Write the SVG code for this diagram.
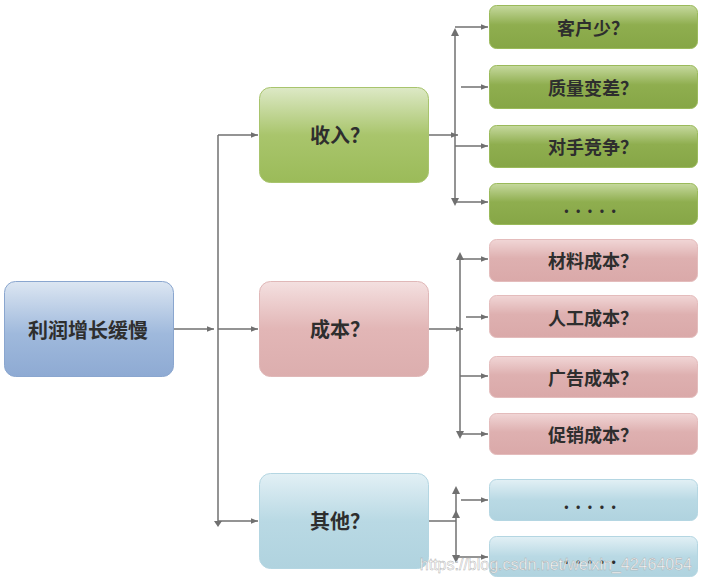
<svg xmlns="http://www.w3.org/2000/svg" width="702" height="583" viewBox="0 0 702 583">
<defs>
<linearGradient id="gBlue" x1="0" y1="0" x2="0" y2="1"><stop offset="0" stop-color="#dce6f2"/><stop offset="0.55" stop-color="#9fb9dc"/><stop offset="1" stop-color="#8eaad3"/></linearGradient>
<linearGradient id="gGreen" x1="0" y1="0" x2="0" y2="1"><stop offset="0" stop-color="#dde9c6"/><stop offset="0.5" stop-color="#a9c56c"/><stop offset="1" stop-color="#9bbb59"/></linearGradient>
<linearGradient id="gGreenS" x1="0" y1="0" x2="0" y2="1"><stop offset="0" stop-color="#c6d99e"/><stop offset="0.45" stop-color="#8fae4f"/><stop offset="1" stop-color="#86a646"/></linearGradient>
<linearGradient id="gRed" x1="0" y1="0" x2="0" y2="1"><stop offset="0" stop-color="#f4e0e0"/><stop offset="0.5" stop-color="#e2b6b6"/><stop offset="1" stop-color="#dcaeae"/></linearGradient>
<linearGradient id="gRedS" x1="0" y1="0" x2="0" y2="1"><stop offset="0" stop-color="#f1d6d6"/><stop offset="0.45" stop-color="#deb0b0"/><stop offset="1" stop-color="#daa9a9"/></linearGradient>
<linearGradient id="gCyan" x1="0" y1="0" x2="0" y2="1"><stop offset="0" stop-color="#e2f0f5"/><stop offset="0.5" stop-color="#b9d9e4"/><stop offset="1" stop-color="#b0d3df"/></linearGradient>
<marker id="ah" viewBox="0 0 10 10" refX="10" refY="5" markerWidth="7" markerHeight="7" orient="auto-start-reverse" markerUnits="userSpaceOnUse"><path d="M0,1 L10,5 L0,9 Z" fill="#707070"/></marker>
</defs>
<style>
.lbl{font-family:"Noto Sans CJK SC","Noto Sans",sans-serif;font-weight:bold;fill:#2e2e2e;text-anchor:middle;dominant-baseline:central}
.big{font-size:20px}
.sm{font-size:18px}
.dots{letter-spacing:6px}
.ln{stroke:#707070;stroke-width:1.5;fill:none}
.arr{marker-end:url(#ah)}
</style>
<rect width="702" height="583" fill="#ffffff"/>

<g id="connectors">
<line class="ln arr" x1="174" y1="329" x2="214" y2="329"/>
<line class="ln arr" x1="218" y1="329" x2="258" y2="329"/>
<line class="ln" x1="218" y1="135" x2="218" y2="521"/>
<path class="ln arr" d="M218,135 L258,135"/>
<path class="ln arr" d="M218,521 L258,521"/>
<path d="M214,521 L222,521 L218,527 Z" fill="#707070"/>
<line class="ln arr" x1="429" y1="135" x2="458" y2="135"/>
<line class="ln" x1="455" y1="30" x2="455" y2="202"/>
<path d="M451,36 L459,36 L455,28 Z" fill="#707070"/>
<path d="M451,198 L459,198 L455,206 Z" fill="#707070"/>
<line class="ln arr" x1="455" y1="27" x2="488" y2="27"/>
<line class="ln arr" x1="461" y1="87" x2="488" y2="87"/>
<line class="ln arr" x1="455" y1="146" x2="488" y2="146"/>
<line class="ln arr" x1="455" y1="202" x2="488" y2="202"/>
<line class="ln arr" x1="429" y1="329" x2="463" y2="329"/>
<line class="ln" x1="460" y1="256" x2="460" y2="434"/>
<path d="M456,260 L464,260 L460,252 Z" fill="#707070"/>
<path d="M456,431 L464,431 L460,439 Z" fill="#707070"/>
<line class="ln arr" x1="460" y1="259" x2="488" y2="259"/>
<line class="ln arr" x1="466" y1="317" x2="488" y2="317"/>
<line class="ln arr" x1="460" y1="376" x2="488" y2="376"/>
<line class="ln arr" x1="460" y1="434" x2="488" y2="434"/>
<line class="ln" x1="429" y1="521" x2="456" y2="521"/>
<line class="ln" x1="456" y1="490" x2="456" y2="558"/>
<path d="M452,494 L460,494 L456,486 Z" fill="#707070"/>
<path d="M452,518 L460,518 L456,510 Z" fill="#707070"/>
<path d="M452,555 L460,555 L456,563 Z" fill="#707070"/>
<line class="ln arr" x1="461" y1="500" x2="488" y2="500"/>
<line class="ln arr" x1="456" y1="557" x2="488" y2="557"/>
</g>

<g id="root"><rect x="4.5" y="281.5" width="169" height="95" rx="11" fill="url(#gBlue)" stroke="#8aa6cf" stroke-width="1"/><text class="lbl big" x="88" y="329">利润增长缓慢</text></g>

<g id="income"><rect x="259.5" y="87.5" width="169" height="95" rx="11" fill="url(#gGreen)" stroke="#a8c46d" stroke-width="1"/><text class="lbl big" x="340" y="134">收入？</text></g>
<g id="cost"><rect x="259.5" y="281.5" width="169" height="95" rx="11" fill="url(#gRed)" stroke="#e0b8b8" stroke-width="1"/><text class="lbl big" x="340" y="328">成本？</text></g>
<g id="other"><rect x="259.5" y="473.5" width="169" height="95" rx="11" fill="url(#gCyan)" stroke="#b4d6e2" stroke-width="1"/><text class="lbl big" x="340" y="520">其他？</text></g>

<g id="g1"><rect x="489.5" y="5.5" width="208" height="43" rx="7" fill="url(#gGreenS)" stroke="#9aba5a" stroke-width="1"/><text class="lbl sm" x="593" y="27">客户少？</text></g>
<g id="g2"><rect x="489.5" y="65.5" width="208" height="43" rx="7" fill="url(#gGreenS)" stroke="#9aba5a" stroke-width="1"/><text class="lbl sm" x="593" y="87">质量变差？</text></g>
<g id="g3"><rect x="489.5" y="125.5" width="208" height="42" rx="7" fill="url(#gGreenS)" stroke="#9aba5a" stroke-width="1"/><text class="lbl sm" x="593" y="146">对手竞争？</text></g>
<g id="g4"><rect x="489.5" y="183.5" width="208" height="41" rx="7" fill="url(#gGreenS)" stroke="#9aba5a" stroke-width="1"/><text class="lbl sm dots" x="593" y="205">.....</text></g>

<g id="r1"><rect x="489.5" y="239.5" width="208" height="42" rx="7" fill="url(#gRedS)" stroke="#e4bcbc" stroke-width="1"/><text class="lbl sm" x="593" y="260">材料成本？</text></g>
<g id="r2"><rect x="489.5" y="295.5" width="208" height="42" rx="7" fill="url(#gRedS)" stroke="#e4bcbc" stroke-width="1"/><text class="lbl sm" x="593" y="317">人工成本？</text></g>
<g id="r3"><rect x="489.5" y="356.5" width="208" height="41" rx="7" fill="url(#gRedS)" stroke="#e4bcbc" stroke-width="1"/><text class="lbl sm" x="593" y="377">广告成本？</text></g>
<g id="r4"><rect x="489.5" y="413.5" width="208" height="41" rx="7" fill="url(#gRedS)" stroke="#e4bcbc" stroke-width="1"/><text class="lbl sm" x="593" y="434">促销成本？</text></g>

<g id="c1"><rect x="489.5" y="479.5" width="208" height="41" rx="7" fill="url(#gCyan)" stroke="#b4d6e2" stroke-width="1"/><text class="lbl sm dots" x="593" y="501">.....</text></g>
<g id="c2"><rect x="489.5" y="536.5" width="208" height="40" rx="7" fill="url(#gCyan)" stroke="#b4d6e2" stroke-width="1"/><text class="lbl sm dots" x="593" y="556">.....</text></g>

<text x="692" y="570" font-family="'Liberation Sans',Arial,sans-serif" font-size="16" fill="#ffffff" fill-opacity="0.9" stroke="#a8a8a8" stroke-width="0.4" text-anchor="end">https://blog.csdn.net/weixin_42464054</text>
</svg>
